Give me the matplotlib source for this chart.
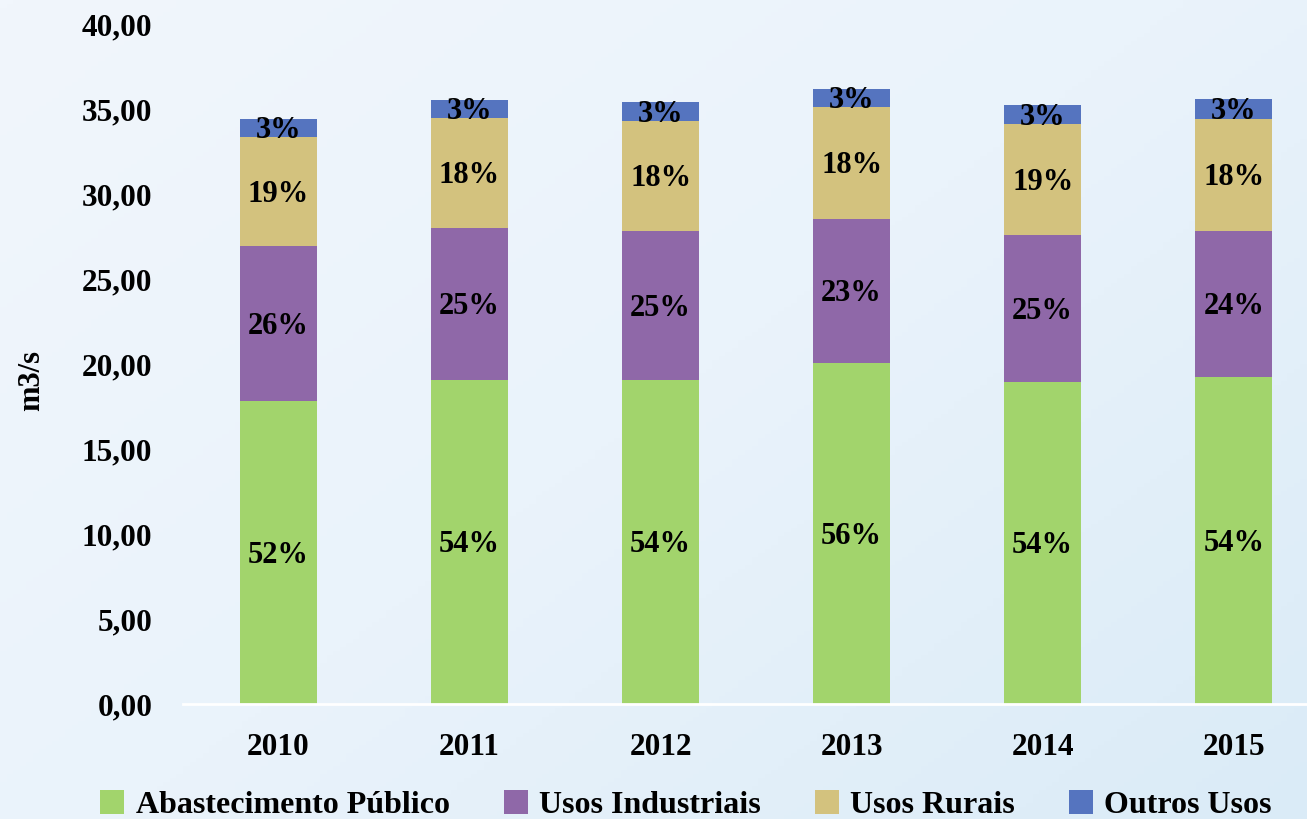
import numpy as np
import matplotlib
matplotlib.use('Agg')
import matplotlib.pyplot as plt
from matplotlib.colors import LinearSegmentedColormap
from matplotlib.ticker import FuncFormatter

anos = ['2010', '2011', '2012', '2013', '2014', '2015']
series = ['Abastecimento Público', 'Usos Industriais', 'Usos Rurais', 'Outros Usos']
abastecimento = [17.82, 19.06, 19.06, 20.06, 18.94, 19.24]
industriais = [9.12, 8.94, 8.76, 8.47, 8.65, 8.58]
rurais = [6.41, 6.47, 6.47, 6.59, 6.53, 6.59]
outros = [1.06, 1.06, 1.12, 1.06, 1.12, 1.18]
pct_abastecimento = ['52%', '54%', '54%', '56%', '54%', '54%']
pct_industriais = ['26%', '25%', '25%', '23%', '25%', '24%']
pct_rurais = ['19%', '18%', '18%', '18%', '19%', '18%']
pct_outros = ['3%', '3%', '3%', '3%', '3%', '3%']

cores = ['#A2D46C', '#8F68A8', '#D3C27E', '#5574BF']

plt.rcParams['font.family'] = ['Liberation Serif', 'DejaVu Serif']
plt.rcParams['font.weight'] = 'bold'

fig = plt.figure(figsize=(13.07, 8.19), dpi=100)

# fundo em degradê azul claro
bg = fig.add_axes([0, 0, 1, 1], zorder=-10)
cmap = LinearSegmentedColormap.from_list('bg', ['#F1F6FC', '#EAF3FB', '#DAEBF7'])
gx, gy = np.meshgrid(np.linspace(0, 1, 200), np.linspace(0, 1, 200))
bg.imshow(0.55 * gx + 0.45 * gy, cmap=cmap, aspect='auto', extent=[0, 1, 0, 1], origin='upper')
bg.axis('off')

ax = fig.add_axes([0.140, 0.1404, 0.877, 0.8303])
ax.set_facecolor('none')

x = np.arange(len(anos))
dados = [abastecimento, industriais, rurais, outros]
rotulos = [pct_abastecimento, pct_industriais, pct_rurais, pct_outros]
base = np.zeros(len(anos))
for vals, labs, cor, nome in zip(dados, rotulos, cores, series):
    vals = np.array(vals)
    bars = ax.bar(x, vals, 0.40, bottom=base, color=cor, label=nome, edgecolor='none')
    ax.bar_label(bars, labels=labs, label_type='center', fontsize=22, fontweight='bold',
                 color='black', padding=-2)
    base = base + vals

ax.set_xlim(-0.5, 5.5)
ax.set_ylim(0, 40)
ax.set_yticks(np.arange(0, 41, 5))
ax.yaxis.set_major_formatter(FuncFormatter(lambda v, p: f'{v:.2f}'.replace('.', ',')))
ax.set_xticks(x)
ax.set_xticklabels(anos)
ax.tick_params(axis='y', length=0, pad=22, labelsize=22.5)
ax.tick_params(axis='x', length=0, pad=21, labelsize=22.5)
for lab in ax.get_xticklabels() + ax.get_yticklabels():
    lab.set_fontweight('bold')

for s in ['top', 'right', 'left']:
    ax.spines[s].set_visible(False)
ax.spines['bottom'].set_color('white')
ax.spines['bottom'].set_linewidth(2)

fig.text(0.024, 0.535, 'm3/s', rotation=90, fontsize=22, fontweight='bold', ha='center', va='center')

fig.legend(loc='center', bbox_to_anchor=(0.525, 0.017), ncol=4, frameon=False,
           handlelength=0.75, handleheight=0.75, handletextpad=0.35,
           columnspacing=1.7, prop={'weight': 'bold', 'size': 23})

fig.savefig('out.png', dpi=100)
